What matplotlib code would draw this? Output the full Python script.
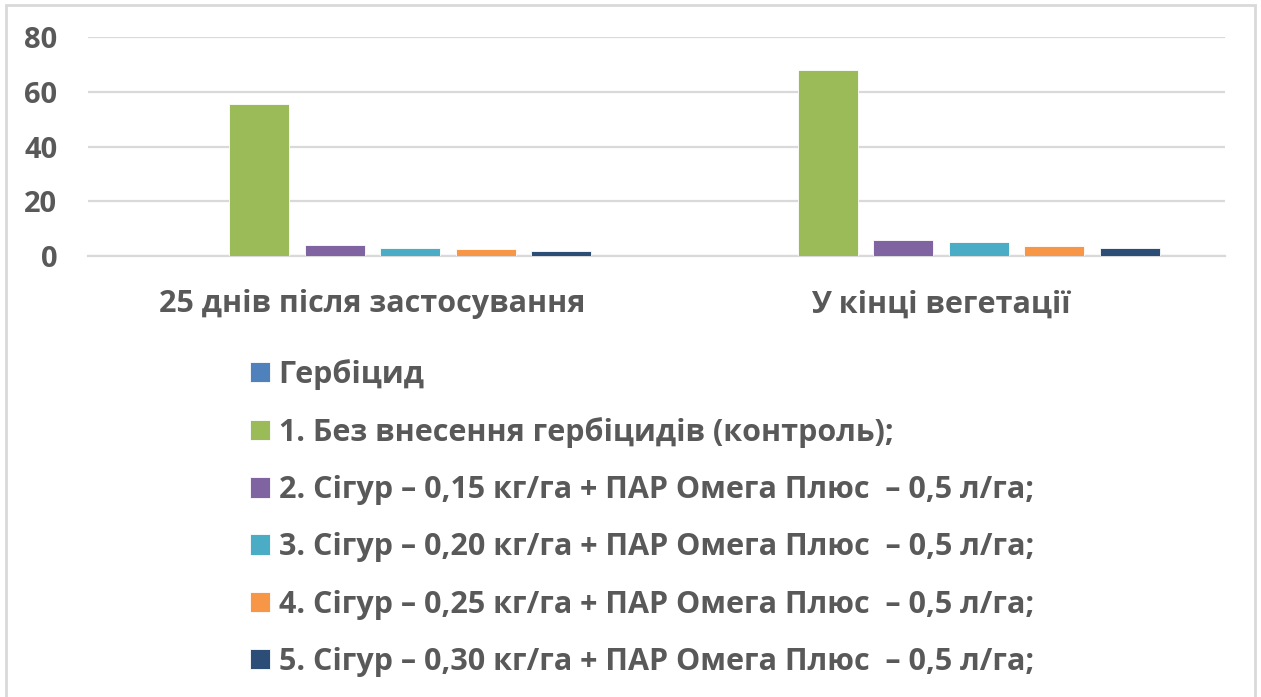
import matplotlib.pyplot as plt
import numpy as np
from matplotlib.patches import Rectangle

plt.rcParams['font.family'] = ['Open Sans', 'DejaVu Sans']

categories = ['25 днів після застосування', 'У кінці вегетації']
series_names = ['Гербіцид',
                '1. Без внесення гербіцидів (контроль);',
                '2. Сігур – 0,15 кг/га + ПАР Омега Плюс  – 0,5 л/га;',
                '3. Сігур – 0,20 кг/га + ПАР Омега Плюс  – 0,5 л/га;',
                '4. Сігур – 0,25 кг/га + ПАР Омега Плюс  – 0,5 л/га;',
                '5. Сігур – 0,30 кг/га + ПАР Омега Плюс  – 0,5 л/га;']
values = [[0, 0],
          [55.4, 68.1],
          [4.0, 5.9],
          [3.0, 5.0],
          [2.7, 3.8],
          [1.9, 2.8]]
colors = ['#4F81BD', '#9BBB59', '#8064A2', '#4BACC6', '#F79646', '#2C4D75']
text_color = '#595959'

fig = plt.figure(figsize=(12.61, 6.97), dpi=100)
ax = fig.add_axes([0.0698, 0.6327, 0.9017, 0.3142])

x = np.arange(len(categories))
step = 0.1328
width = 0.1055
bars = []
for i, (name, vals) in enumerate(zip(series_names, values)):
    b = ax.bar(x + (i - 2.5) * step, vals, width, color=colors[i], label=name,
               edgecolor='white', linewidth=0.6, zorder=3)
    bars.append(b)

ax.set_xlim(-0.5, 1.5)
ax.set_ylim(0, 80)
ax.set_yticks([0, 20, 40, 60, 80])
ax.set_xticks(x)
ax.set_xticklabels(categories)
ax.yaxis.grid(True, color='#D9D9D9', linewidth=1.6, zorder=0)
for s in ['top', 'right', 'left']:
    ax.spines[s].set_visible(False)
ax.spines['bottom'].set_color('#D9D9D9')
ax.spines['bottom'].set_linewidth(1.6)
ax.tick_params(axis='both', length=0, colors=text_color)
ax.tick_params(axis='y', pad=22)
ax.tick_params(axis='x', pad=24)
for lbl in ax.get_yticklabels():
    lbl.set_fontsize(21)
    lbl.set_fontweight('bold')
    lbl.set_color(text_color)
for lbl in ax.get_xticklabels():
    lbl.set_fontsize(22)
    lbl.set_fontweight('bold')
    lbl.set_color(text_color)

leg = fig.legend(handles=bars, labels=series_names, loc='upper left',
                 bbox_to_anchor=(0.198, 0.485), frameon=False,
                 prop={'size': 22, 'weight': 'bold'},
                 handlelength=0.65, handleheight=0.65, handletextpad=0.3,
                 labelspacing=0.89, borderaxespad=0, borderpad=0)
for t in leg.get_texts():
    t.set_color(text_color)

fig.patches.append(Rectangle((0.0048, -0.01), 0.9905, 1.0028, transform=fig.transFigure,
                             fill=False, edgecolor='#D9D9D9', linewidth=2))

fig.savefig('out.png', dpi=100)
